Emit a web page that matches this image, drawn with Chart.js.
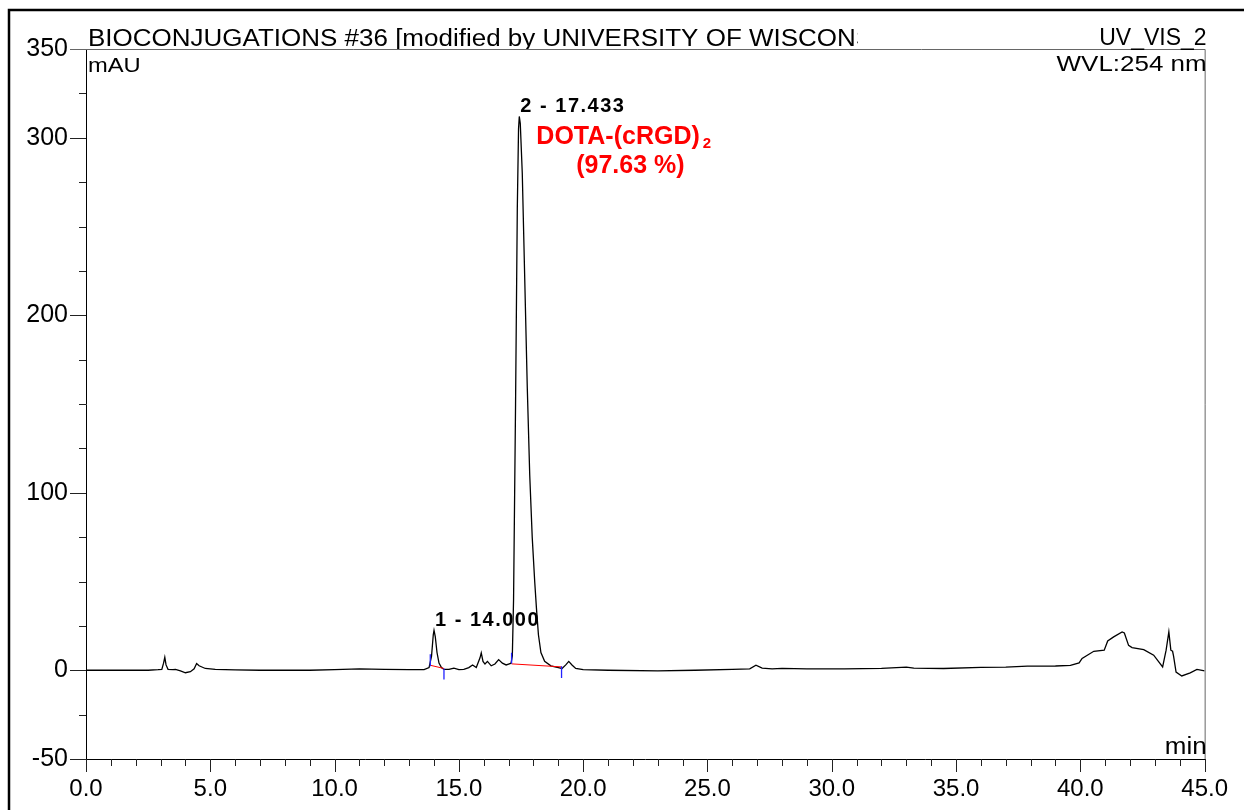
<!DOCTYPE html>
<html>
<head>
<meta charset="utf-8">
<script src="https://cdn.jsdelivr.net/npm/chart.js@4.4.0/dist/chart.umd.min.js"></script>
<style>
  html, body { margin: 0; padding: 0; background: #fff; }
  #wrap { width: 1244px; height: 810px; }
</style>
</head>
<body>
<div id="wrap"><canvas id="chart" width="1244" height="810"></canvas></div>
<script>
// Хроматограмма UV_VIS_2, время удерживания (мин) и поглощение (mAU)
const traceTime = [
  0, 2.5, 2.9, 3.05, 3.12, 3.17, 3.22, 3.3, 3.5, 3.6, 3.8, 4.0, 4.2, 4.35, 4.45, 4.55, 4.8, 5.2,
  6.0, 7.0, 9.0, 10.0, 11.0, 12.0, 13.0, 13.6, 13.8, 13.9, 13.97, 14.0, 14.05, 14.12, 14.2, 14.3,
  14.4, 14.6, 14.8, 15.0, 15.2, 15.4, 15.55, 15.7, 15.85, 15.9, 15.97, 16.05, 16.15, 16.3, 16.45,
  16.6, 16.75, 16.9, 17.0, 17.1, 17.15, 17.2, 17.28, 17.35, 17.4, 17.43, 17.47, 17.55, 17.65,
  17.75, 17.85, 17.95, 18.05, 18.12, 18.2, 18.3, 18.45, 18.7, 19.0, 19.15, 19.3, 19.42, 19.55,
  19.7, 20.0, 21.0, 23.0, 24.5, 26.0, 26.7, 26.95, 27.2, 27.6, 28.0, 29.0, 30.5, 32.0, 33.0, 33.3,
  34.5, 36.0, 37.0, 37.87, 39.0, 39.6, 39.95, 40.07, 40.54, 40.96, 41.1, 41.34, 41.68, 41.77,
  41.94, 42.08, 42.55, 42.95, 43.31, 43.45, 43.56, 43.64, 43.71, 43.75, 43.85, 44.08, 44.42,
  44.69, 45.0
];
const traceMAU = [
  0, 0, 0.3, 0.5, 4, 7.3, 3, 0.5, 0.3, 0.5, -0.3, -1.4, -0.8, 0.8, 3.8, 2.5, 1.0, 0.5,
  0.2, 0, 0, 0.4, 0.8, 0.5, 0.3, 0.4, 1.5, 8, 20, 22.5, 19, 10, 4, 1.5,
  0.5, 0.5, 1.2, 0.4, 0.5, 1.5, 3, 1.5, 7, 9.8, 5, 3.5, 5, 2.5, 3.5,
  6, 4, 3, 3.5, 4, 8, 40, 150, 260, 305, 312, 308, 280, 220,
  160, 110, 75, 50, 35, 20, 10, 5, 2.5, 1.5, 1, 3, 5, 3,
  1, 0.3, 0, -0.3, 0, 0.5, 0.8, 2.8, 1.2, 0.8, 1, 0.8, 0.8, 1.1, 1.8, 1.2,
  1.0, 1.6, 1.8, 2.3, 2.4, 2.8, 4.1, 6.7, 10.7, 11.3, 16.5, 18.8, 21.6, 21,
  14, 12.8, 11.6, 8.5, 1.9, 11.3, 21.6, 11.3, 10.7, 8, -1, -3.2, -1.5,
  0.5, -0.4
];

// Подписи осей
const yTickLabels = [350, 300, 200, 100, 0, -50];
const xTickLabels = [0, 5, 10, 15, 20, 25, 30, 35, 40, 45];

// Пики
const peakLabels = ['1 - 14.000', '2 - 17.433'];
const peakTimes = [14.0, 17.433];
const peakHeights = [22.5, 312];

// Интегрирование: базовые линии и отметки начала/конца
const baselineStart = [[13.85, 2.8], [17.12, 3.6]];
const baselineEnd = [[14.4, 1.0], [19.13, 1.9]];
const markTimes = [13.85, 14.4, 17.12, 19.13];
const markTop = [9, 1, 9.8, 2.3];
const markBottom = [2.3, -5.2, 3.8, -4.3];

const FONT = '"Liberation Sans", Arial, Helvetica, sans-serif';
Chart.defaults.font.family = FONT;

function stretchText(ctx, text, x, y, font, align, stretch) {
  ctx.save();
  ctx.font = font;
  ctx.textAlign = align;
  ctx.textBaseline = 'alphabetic';
  ctx.translate(x, y);
  ctx.scale(stretch, 1);
  ctx.fillText(text, 0, 0);
  ctx.restore();
}

const frame = {
  id: 'frame',
  beforeDraw(chart) {
    const ctx = chart.ctx;
    ctx.save();
    ctx.fillStyle = '#fff';
    ctx.fillRect(0, 0, chart.width, chart.height);
    ctx.strokeStyle = '#000';
    ctx.lineWidth = 2.5;
    ctx.strokeRect(9, 10, 1400, 1000);
    ctx.restore();
  },
  afterDraw(chart) {
    const ctx = chart.ctx;
    const a = chart.chartArea;
    const xs = chart.scales.x, ys = chart.scales.y;
    ctx.save();

    // рамка области графика
    ctx.strokeStyle = '#666';
    ctx.lineWidth = 1;
    ctx.beginPath();
    ctx.moveTo(a.left - 16, a.top + 0.5);
    ctx.lineTo(a.right + 0.5, a.top + 0.5);
    ctx.lineTo(a.right + 0.5, a.bottom);
    ctx.stroke();

    // деления
    ctx.strokeStyle = '#222';
    ctx.beginPath();
    ys.ticks.forEach(t => {
      const p = Math.round(ys.getPixelForValue(t.value)) + 0.5;
      const len = yTickLabels.includes(t.value) ? 16 : 7;
      if (t.value === 350) return;
      ctx.moveTo(a.left - len, p);
      ctx.lineTo(a.left, p);
    });
    xs.ticks.forEach(t => {
      const p = Math.round(xs.getPixelForValue(t.value)) + 0.5;
      const len = xTickLabels.includes(t.value) ? 13 : 7;
      ctx.moveTo(p, a.bottom);
      ctx.lineTo(p, a.bottom + len);
    });
    ctx.stroke();

    // заголовок
    ctx.fillStyle = '#000';
    ctx.save();
    ctx.beginPath();
    ctx.rect(a.left, 0, 858 - a.left, a.top);
    ctx.clip();
    stretchText(ctx, 'BIOCONJUGATIONS #36 [modified by UNIVERSITY OF WISCONSIN]', a.left + 2, a.top - 3, '23px ' + FONT, 'left', 1.13);
    ctx.restore();
    stretchText(ctx, 'UV_VIS_2', a.right + 2, a.top - 4, '23px ' + FONT, 'right', 1.0);
    stretchText(ctx, 'mAU', a.left + 2, a.top + 23, '21px ' + FONT, 'left', 1.13);
    stretchText(ctx, 'WVL:254 nm', a.right + 2, a.top + 22, '22px ' + FONT, 'right', 1.18);
    stretchText(ctx, 'min', a.right + 2, a.bottom - 5, '23px ' + FONT, 'right', 1.13);

    // подписи пиков
    ctx.font = 'bold 20px ' + FONT;
    ctx.letterSpacing = '1.5px';
    ctx.textAlign = 'left';
    ctx.textBaseline = 'alphabetic';
    peakLabels.forEach((lbl, i) => {
      const x = xs.getPixelForValue(peakTimes[i]);
      const y = ys.getPixelForValue(peakHeights[i]);
      ctx.fillText(lbl, x + 1, y - 4);
    });
    ctx.letterSpacing = '0px';

    // название соединения
    const px = xs.getPixelForValue(peakTimes[1]);
    const py = ys.getPixelForValue(peakHeights[1]);
    ctx.fillStyle = '#ff0000';
    ctx.font = 'bold 25px ' + FONT;
    ctx.fillText('DOTA-(cRGD)', px + 17, py + 28);
    const w = ctx.measureText('DOTA-(cRGD)').width;
    ctx.font = 'bold 15px ' + FONT;
    ctx.fillText('2', px + 17 + w + 3, py + 32);
    ctx.font = 'bold 25px ' + FONT;
    ctx.textAlign = 'center';
    ctx.fillText('(97.63 %)', px + 111, py + 57);

    ctx.restore();
  }
};

const datasets = [{
  data: traceTime.map((t, i) => ({ x: t, y: traceMAU[i] })),
  borderColor: '#000',
  borderWidth: 1.3,
  pointRadius: 0,
  tension: 0,
  order: 3
}];

baselineStart.forEach((s, i) => {
  datasets.push({
    data: [{ x: s[0], y: s[1] }, { x: baselineEnd[i][0], y: baselineEnd[i][1] }],
    borderColor: '#ff0000',
    borderWidth: 1,
    pointRadius: 0,
    order: 2
  });
});

markTimes.forEach((t, i) => {
  datasets.push({
    data: [{ x: t, y: markTop[i] }, { x: t, y: markBottom[i] }],
    borderColor: '#2222ff',
    borderWidth: 1.3,
    pointRadius: 0,
    order: 1
  });
});

new Chart(document.getElementById('chart'), {
  type: 'line',
  data: { datasets },
  plugins: [frame],
  options: {
    responsive: false,
    animation: false,
    devicePixelRatio: 1,
    layout: { padding: { left: 0, top: 49, right: 36, bottom: 0 } },
    plugins: { legend: { display: false }, tooltip: { enabled: false } },
    scales: {
      x: {
        type: 'linear',
        min: 0,
        max: 45,
        grid: { display: false, drawTicks: false },
        border: { display: true, color: '#000', width: 1 },
        ticks: {
          stepSize: 1,
          autoSkip: false,
          maxRotation: 0,
          padding: 16,
          color: '#000',
          font: { size: 24 },
          callback: v => xTickLabels.includes(v) ? v.toFixed(1) : ''
        },
        afterFit: s => { s.height = 51; }
      },
      y: {
        min: -50,
        max: 350,
        grid: { display: false, drawTicks: false },
        border: { display: true, color: '#000', width: 1 },
        ticks: {
          stepSize: 25,
          autoSkip: false,
          padding: 18,
          color: '#000',
          font: { size: 25 },
          callback: v => yTickLabels.includes(v) ? String(v) : ''
        },
        afterFit: s => { s.width = 86; }
      }
    }
  }
});
</script>
</body>
</html>
